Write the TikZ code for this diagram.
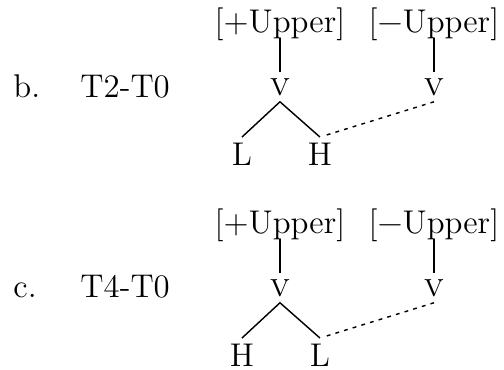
\documentclass[tikz,border=0pt]{standalone}
\usepackage{fontspec}
\usepackage{tikz}
\usetikzlibrary{positioning,calc}

\begin{document}
\begin{tikzpicture}[
    every node/.style={font=\fontsize{13.8}{16}\selectfont},
    exlabel/.style={anchor=base west, inner sep=0pt},
    feat/.style={anchor=base, inner sep=0pt},
    vowel/.style={inner sep=2.4pt},
    tone/.style={inner sep=2.4pt},
    assoc/.style={semithick},
    spread/.style={semithick, dash pattern=on 1.6pt off 2.2pt, shorten <=3pt}
]
    \useasboundingbox (0,0) rectangle (7.44,-5.461);
    % b. T2-T0
    \node[exlabel] (bnum) at (0.192,-1.432) {b.};
    \node[exlabel] (bname) at (1.181,-1.432) {T2-T0};
    \node[feat] (bup) at (4.133,-0.487) {[+Upper]};
    \node[feat] (blo) at (6.406,-0.487) {[−Upper]};
    \node[vowel] (bv1) at (4.133,-1.284) {\textsc{v}};
    \node[vowel] (bv2) at (6.406,-1.284) {\textsc{v}};
    \node[tone] (bl) at (3.572,-2.28) {L};
    \node[tone] (bh) at (4.723,-2.28) {H};
    \draw[assoc] ($(bup.base)+(0,-0.08)$) -- (bv1.north);
    \draw[assoc] ($(blo.base)+(0,-0.08)$) -- (bv2.north);
    \draw[assoc] (bl.north) -- (bv1.south) -- (bh.north);
    \draw[spread] (bh.north) -- (bv2.south);
    % c. T4-T0
    \node[exlabel] (cnum) at (0.192,-4.399) {c.};
    \node[exlabel] (cname) at (1.181,-4.399) {T4-T0};
    \node[feat] (cup) at (4.133,-3.454) {[+Upper]};
    \node[feat] (clo) at (6.406,-3.454) {[−Upper]};
    \node[vowel] (cv1) at (4.133,-4.251) {\textsc{v}};
    \node[vowel] (cv2) at (6.406,-4.251) {\textsc{v}};
    \node[tone] (ch) at (3.572,-5.247) {H};
    \node[tone] (cl) at (4.723,-5.247) {L};
    \draw[assoc] ($(cup.base)+(0,-0.08)$) -- (cv1.north);
    \draw[assoc] ($(clo.base)+(0,-0.08)$) -- (cv2.north);
    \draw[assoc] (ch.north) -- (cv1.south) -- (cl.north);
    \draw[spread] (cl.north) -- (cv2.south);
\end{tikzpicture}
\end{document}
